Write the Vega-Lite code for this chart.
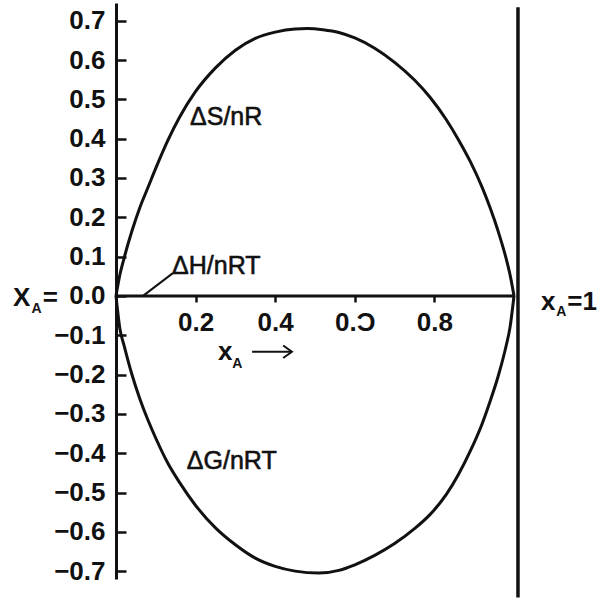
{
  "$schema": "https://vega.github.io/schema/vega-lite/v6.json",
  "width": 398,
  "height": 576,
  "autosize": {"type": "none"},
  "padding": {"left": 116, "top": 3, "right": 85, "bottom": 19},
  "background": "white",
  "config": {
    "view": {"stroke": null},
    "font": "Liberation Sans",
    "axis": {"grid": false, "title": null, "labelColor": "#111", "domainColor": "#111", "tickColor": "#111"}
  },
  "datasets": {
    "curves": [
      {"curve": "S", "x": 0, "y": 0},
      {"curve": "S", "x": 0.01, "y": 0.055},
      {"curve": "S", "x": 0.02, "y": 0.095},
      {"curve": "S", "x": 0.04, "y": 0.165},
      {"curve": "S", "x": 0.06, "y": 0.225},
      {"curve": "S", "x": 0.08, "y": 0.275},
      {"curve": "S", "x": 0.10, "y": 0.325},
      {"curve": "S", "x": 0.13, "y": 0.395},
      {"curve": "S", "x": 0.16, "y": 0.455},
      {"curve": "S", "x": 0.20, "y": 0.52},
      {"curve": "S", "x": 0.25, "y": 0.58},
      {"curve": "S", "x": 0.30, "y": 0.625},
      {"curve": "S", "x": 0.35, "y": 0.655},
      {"curve": "S", "x": 0.40, "y": 0.671},
      {"curve": "S", "x": 0.45, "y": 0.679},
      {"curve": "S", "x": 0.48, "y": 0.680},
      {"curve": "S", "x": 0.52, "y": 0.677},
      {"curve": "S", "x": 0.56, "y": 0.670},
      {"curve": "S", "x": 0.60, "y": 0.656},
      {"curve": "S", "x": 0.65, "y": 0.630},
      {"curve": "S", "x": 0.70, "y": 0.594},
      {"curve": "S", "x": 0.75, "y": 0.549},
      {"curve": "S", "x": 0.79, "y": 0.504},
      {"curve": "S", "x": 0.83, "y": 0.448},
      {"curve": "S", "x": 0.86, "y": 0.398},
      {"curve": "S", "x": 0.89, "y": 0.342},
      {"curve": "S", "x": 0.92, "y": 0.276},
      {"curve": "S", "x": 0.94, "y": 0.224},
      {"curve": "S", "x": 0.96, "y": 0.165},
      {"curve": "S", "x": 0.98, "y": 0.096},
      {"curve": "S", "x": 0.99, "y": 0.054},
      {"curve": "S", "x": 1.0, "y": 0},
      {"curve": "G", "x": 0, "y": 0},
      {"curve": "G", "x": 0.01, "y": -0.085},
      {"curve": "G", "x": 0.02, "y": -0.125},
      {"curve": "G", "x": 0.04, "y": -0.200},
      {"curve": "G", "x": 0.06, "y": -0.262},
      {"curve": "G", "x": 0.08, "y": -0.315},
      {"curve": "G", "x": 0.10, "y": -0.362},
      {"curve": "G", "x": 0.13, "y": -0.425},
      {"curve": "G", "x": 0.16, "y": -0.475},
      {"curve": "G", "x": 0.20, "y": -0.533},
      {"curve": "G", "x": 0.25, "y": -0.590},
      {"curve": "G", "x": 0.30, "y": -0.633},
      {"curve": "G", "x": 0.35, "y": -0.667},
      {"curve": "G", "x": 0.40, "y": -0.688},
      {"curve": "G", "x": 0.45, "y": -0.700},
      {"curve": "G", "x": 0.51, "y": -0.705},
      {"curve": "G", "x": 0.56, "y": -0.698},
      {"curve": "G", "x": 0.60, "y": -0.684},
      {"curve": "G", "x": 0.65, "y": -0.660},
      {"curve": "G", "x": 0.70, "y": -0.630},
      {"curve": "G", "x": 0.75, "y": -0.592},
      {"curve": "G", "x": 0.79, "y": -0.555},
      {"curve": "G", "x": 0.83, "y": -0.505},
      {"curve": "G", "x": 0.86, "y": -0.455},
      {"curve": "G", "x": 0.89, "y": -0.395},
      {"curve": "G", "x": 0.92, "y": -0.325},
      {"curve": "G", "x": 0.94, "y": -0.268},
      {"curve": "G", "x": 0.96, "y": -0.205},
      {"curve": "G", "x": 0.98, "y": -0.128},
      {"curve": "G", "x": 0.99, "y": -0.080},
      {"curve": "G", "x": 1.0, "y": 0},
      {"curve": "H", "x": 0, "y": 0},
      {"curve": "H", "x": 1.0, "y": 0}
    ],
    "strokes": [
      {"part": "leader", "x": 0.068, "y": 0.0},
      {"part": "leader", "x": 0.143, "y": 0.058},
      {"part": "shaft", "x": 0.342, "y": -0.142},
      {"part": "shaft", "x": 0.442, "y": -0.142},
      {"part": "head", "x": 0.420, "y": -0.126},
      {"part": "head", "x": 0.442, "y": -0.142},
      {"part": "head", "x": 0.420, "y": -0.158}
    ],
    "edge": [
      {"x": 1.01, "y": 0.734, "y2": -0.767}
    ],
    "labels": [
      {"kind": "curve", "x": 0.186, "y": 0.434, "text": "ΔS/nR"},
      {"kind": "curve", "x": 0.141, "y": 0.056, "text": "ΔH/nRT"},
      {"kind": "curve", "x": 0.178, "y": -0.440, "text": "ΔG/nRT"},
      {"kind": "big", "x": -0.259, "y": -0.025, "text": "X"},
      {"kind": "big", "x": -0.184, "y": -0.025, "text": "="},
      {"kind": "big", "x": 1.068, "y": -0.036, "text": "x"},
      {"kind": "big", "x": 1.134, "y": -0.036, "text": "=1"},
      {"kind": "big", "x": 0.256, "y": -0.163, "text": "x"},
      {"kind": "sub", "x": -0.212, "y": -0.043, "text": "A"},
      {"kind": "sub", "x": 1.106, "y": -0.050, "text": "A"},
      {"kind": "sub", "x": 0.292, "y": -0.183, "text": "A"}
    ]
  },
  "layer": [
    {
      "data": {"name": "curves"},
      "mark": {"type": "line", "interpolate": "monotone", "color": "#111", "strokeWidth": 3},
      "encoding": {
        "x": {
          "field": "x", "type": "quantitative",
          "scale": {"domain": [0, 1], "nice": false, "zero": false},
          "axis": {
            "values": [0.2, 0.4, 0.6, 0.8],
            "format": ".1f",
            "labelExpr": "datum.value == 0.6 ? '0.Ɔ' : datum.label",
            "labelFont": "Liberation Sans",
            "labelFontWeight": "bold",
            "labelFontSize": 26,
            "domain": false,
            "offset": -283,
            "tickSize": 6,
            "tickWidth": 2.5,
            "labelPadding": 7
          }
        },
        "y": {
          "field": "y", "type": "quantitative",
          "scale": {"domain": [-0.72, 0.745], "nice": false, "zero": false},
          "axis": {
            "values": [-0.7, -0.6, -0.5, -0.4, -0.3, -0.2, -0.1, 0, 0.1, 0.2, 0.3, 0.4, 0.5, 0.6, 0.7],
            "format": ".1f",
            "labelFont": "Liberation Sans",
            "labelFontWeight": "bold",
            "labelFontSize": 26,
            "domainWidth": 3,
            "tickSize": -10,
            "tickWidth": 2.5,
            "labelPadding": 21,
            "labelBaseline": "middle"
          }
        },
        "detail": {"field": "curve", "type": "nominal"}
      }
    },
    {
      "data": {"name": "strokes"},
      "mark": {"type": "line", "color": "#111", "strokeWidth": 2},
      "encoding": {
        "x": {"field": "x", "type": "quantitative"},
        "y": {"field": "y", "type": "quantitative"},
        "detail": {"field": "part", "type": "nominal"},
        "order": {"field": "y", "type": "quantitative"}
      }
    },
    {
      "data": {"name": "edge"},
      "mark": {"type": "rule", "color": "#111", "strokeWidth": 3.5},
      "encoding": {
        "x": {"field": "x", "type": "quantitative"},
        "y": {"field": "y", "type": "quantitative"},
        "y2": {"field": "y2"}
      }
    },
    {
      "data": {"name": "labels"},
      "transform": [{"filter": "datum.kind == 'curve'"}],
      "mark": {"type": "text", "align": "left", "baseline": "alphabetic", "font": "Liberation Sans", "fontSize": 25, "color": "#111", "stroke": "#111", "strokeWidth": 0.6},
      "encoding": {
        "x": {"field": "x", "type": "quantitative"},
        "y": {"field": "y", "type": "quantitative"},
        "text": {"field": "text"}
      }
    },
    {
      "data": {"name": "labels"},
      "transform": [{"filter": "datum.kind == 'big'"}],
      "mark": {"type": "text", "align": "left", "baseline": "alphabetic", "font": "Liberation Sans", "fontWeight": "bold", "fontSize": 26, "color": "#111"},
      "encoding": {
        "x": {"field": "x", "type": "quantitative"},
        "y": {"field": "y", "type": "quantitative"},
        "text": {"field": "text"}
      }
    },
    {
      "data": {"name": "labels"},
      "transform": [{"filter": "datum.kind == 'sub'"}],
      "mark": {"type": "text", "align": "left", "baseline": "alphabetic", "font": "Liberation Sans", "fontWeight": "bold", "fontSize": 14, "color": "#111"},
      "encoding": {
        "x": {"field": "x", "type": "quantitative"},
        "y": {"field": "y", "type": "quantitative"},
        "text": {"field": "text"}
      }
    }
  ]
}
